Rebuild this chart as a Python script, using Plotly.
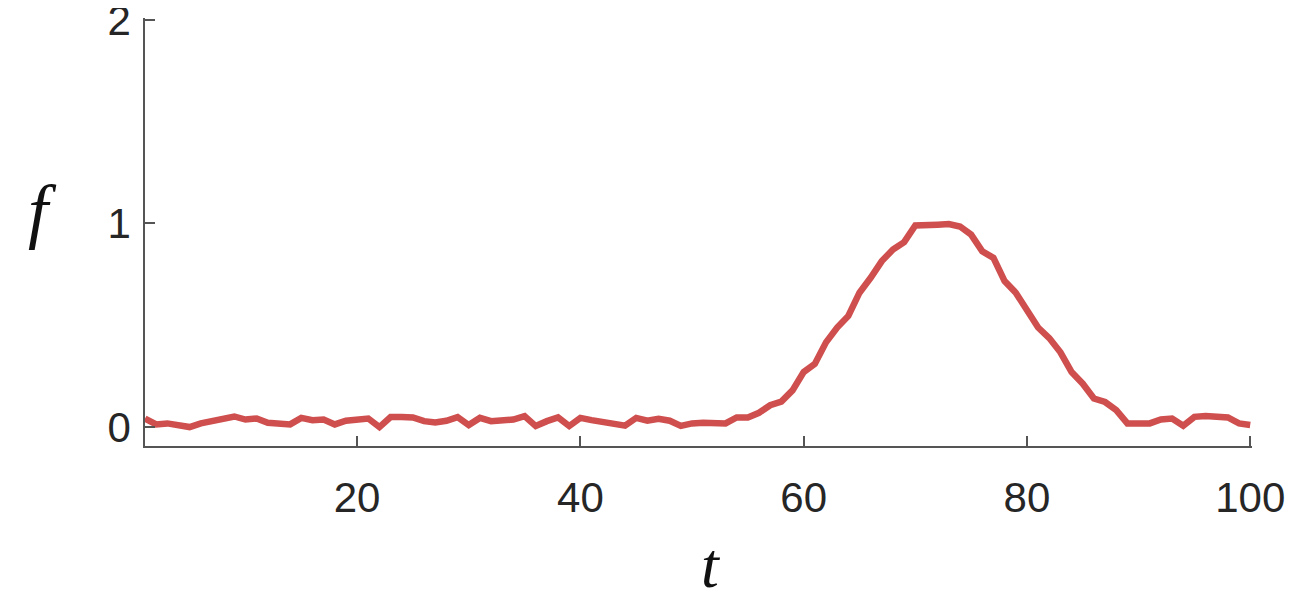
import plotly.graph_objects as go

# time steps and signal values
t = list(range(1, 101))
f = [
    0.042, 0.013, 0.018, 0.013, 0.000, 0.018, 0.031, 0.045, 0.052, 0.037,
    0.042, 0.021, 0.016, 0.013, 0.045, 0.034, 0.037, 0.013, 0.031, 0.034,
    0.042, 0.000, 0.049, 0.049, 0.047, 0.029, 0.023, 0.031, 0.049, 0.010,
    0.045, 0.029, 0.034, 0.037, 0.054, 0.005, 0.029, 0.047, 0.005, 0.045,
    0.034, 0.026, 0.018, 0.007, 0.045, 0.031, 0.041, 0.031, 0.006, 0.018,
    0.021, 0.021, 0.018, 0.047, 0.047, 0.070, 0.107, 0.125, 0.180, 0.270,
    0.310, 0.416, 0.489, 0.546, 0.660, 0.733, 0.815, 0.872, 0.908, 0.990,
    0.989, 0.994, 0.997, 0.985, 0.945, 0.863, 0.831, 0.717, 0.660, 0.571,
    0.489, 0.437, 0.367, 0.270, 0.213, 0.140, 0.123, 0.083, 0.018, 0.018,
    0.018, 0.037, 0.042, 0.006, 0.050, 0.054, 0.047, 0.047, 0.018, 0.010,
]

x_ticks = [20, 40, 60, 80, 100]
y_ticks = [0, 1, 2]

AXIS = "#555555"
TEXT = "#262626"
TICKFONT = {"family": "Liberation Sans, Arial", "size": 42, "color": TEXT}

fig = go.Figure()

fig.add_trace(go.Scatter(
    x=t, y=f,
    mode="lines",
    line={"color": "#CF4E4E", "width": 6.5},
    showlegend=False,
))

# ranges stretched a hair so plotly keeps the end ticks (100 and 2)
fig.update_xaxes(
    range=[1, 100.16],
    tickvals=x_ticks,
    ticks="inside", ticklen=10, tickwidth=1.5, tickcolor=AXIS,
    showline=True, linecolor=AXIS, linewidth=1.5,
    showgrid=False, zeroline=False,
    tickfont=TICKFONT,
    ticklabelstandoff=14,
    ticklabeloverflow="allow",
    automargin=False,
)
fig.update_yaxes(
    range=[-0.093, 2.009],
    tickvals=y_ticks,
    ticks="inside", ticklen=10, tickwidth=1.5, tickcolor=AXIS,
    showline=True, linecolor=AXIS, linewidth=1.5,
    showgrid=False, zeroline=False,
    tickfont=TICKFONT,
    ticklabelstandoff=4,
    ticklabeloverflow="allow",
    automargin=False,
)

fig.add_annotation(
    text="<i>t</i>", xref="paper", yref="paper",
    x=0.511, y=-0.28, xanchor="center", yanchor="middle",
    showarrow=False,
    font={"family": "Liberation Serif", "size": 64, "color": "#111111"},
)
fig.add_annotation(
    text="<i>f</i>", xref="paper", yref="paper",
    x=-0.093, y=0.55, xanchor="center", yanchor="middle",
    showarrow=False,
    font={"family": "Liberation Serif", "size": 72, "color": "#111111"},
)

# page body adds an 8px margin, so the figure is sized to the visible area
fig.update_layout(
    width=1294,
    height=591,
    margin={"l": 137, "r": 50, "t": 10, "b": 153},
    plot_bgcolor="white",
    paper_bgcolor="white",
)

fig.write_html("out.html")
